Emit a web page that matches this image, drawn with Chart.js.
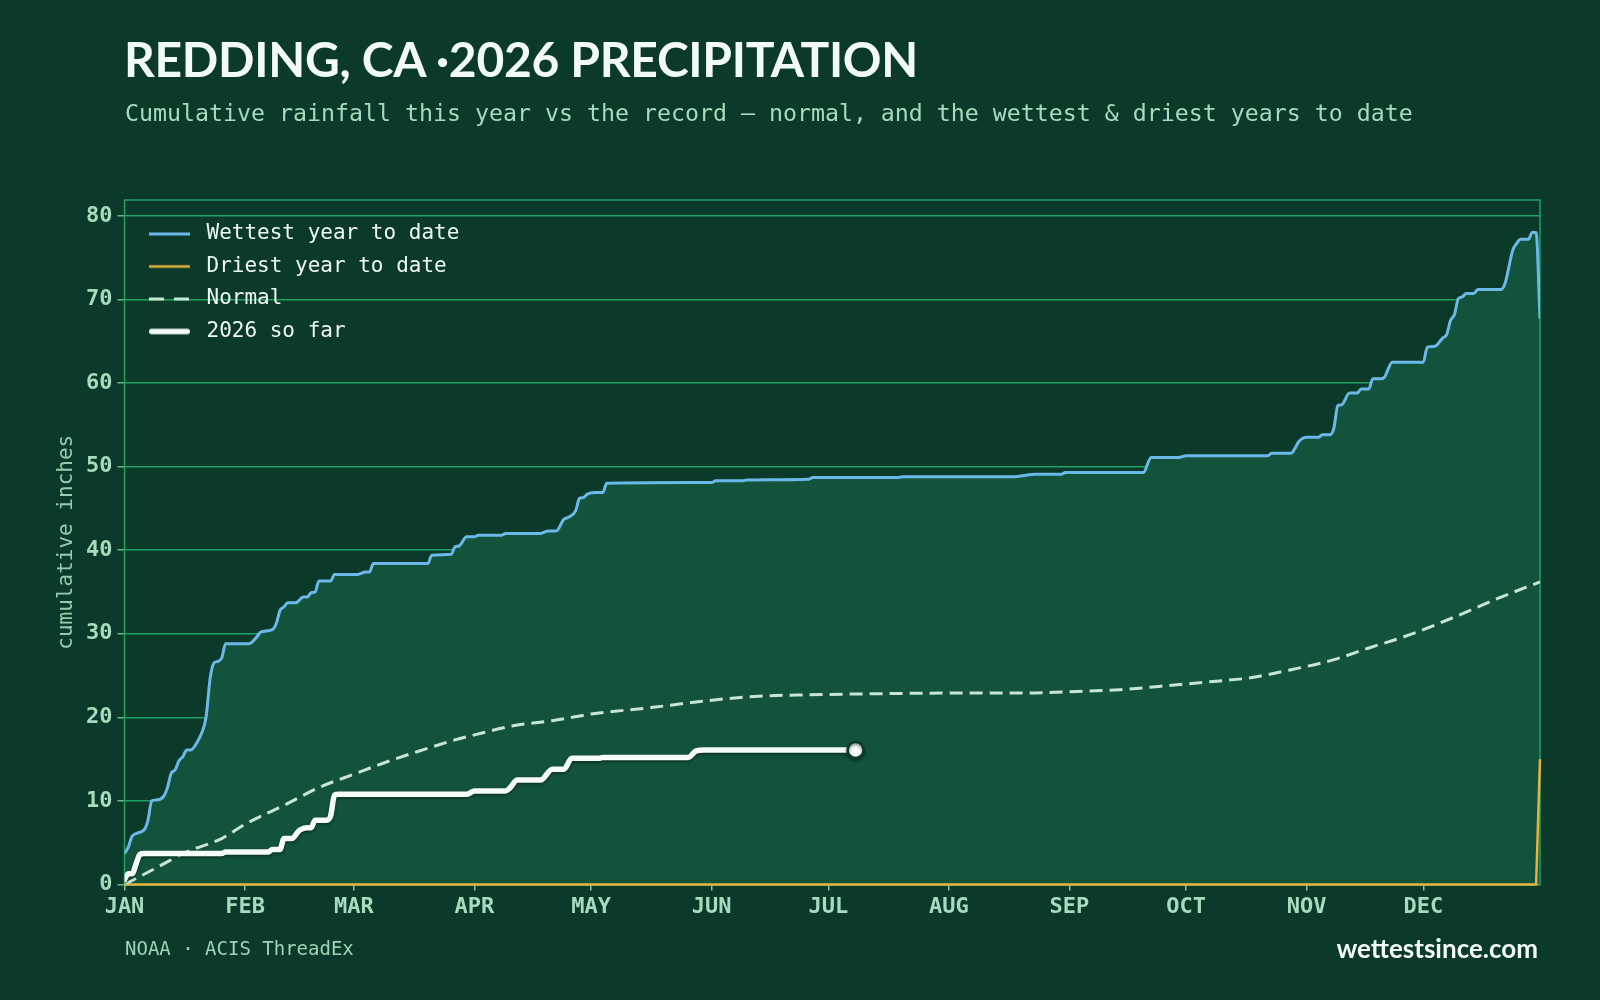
<!DOCTYPE html>
<html lang="en">
<head>
<meta charset="UTF-8">
<title>Redding, CA 2026 precipitation</title>
<script src="https://cdn.jsdelivr.net/npm/chart.js"></script>
<style>
  html, body { margin: 0; padding: 0; background: #0b3a2a; }
  body { width: 1600px; height: 1000px; position: relative; overflow: hidden; }
  .title {
    position: absolute; left: 124px; top: 29px;
    font-family: 'Lato', sans-serif; font-weight: 700; font-size: 48px;
    color: #f1faf4; line-height: 60px; letter-spacing: -0.3px; white-space: nowrap;
  }
  .subtitle {
    position: absolute; left: 125px; top: 98px;
    font-family: 'DejaVu Sans Mono', monospace; font-size: 23.25px;
    color: #a6dbbd; line-height: 30px; white-space: nowrap;
  }
  .source {
    position: absolute; left: 125px; top: 936px;
    font-family: 'DejaVu Sans Mono', monospace; font-size: 19px;
    color: #9fd3b6; line-height: 24px;
  }
  .brand {
    position: absolute; right: 62px; top: 932px;
    font-family: 'Lato', sans-serif; font-weight: 700; font-size: 26px;
    color: #f4fbf6; line-height: 32px;
  }
  .chart-box { position: absolute; left: 0; top: 0; width: 1600px; height: 1000px; }
</style>
</head>
<body>
  <div class="chart-box"><canvas id="rain"></canvas></div>
  <div class="title">REDDING, CA ·2026 PRECIPITATION</div>
  <div class="subtitle">Cumulative rainfall this year vs the record — normal, and the wettest &amp; driest years to date</div>
  <div class="source">NOAA · ACIS ThreadEx</div>
  <div class="brand">wettestsince.com</div>

<script>
// month ticks (day of year, 2026 is not a leap year)
const monthNames = ['JAN', 'FEB', 'MAR', 'APR', 'MAY', 'JUN', 'JUL', 'AUG', 'SEP', 'OCT', 'NOV', 'DEC'];
const monthStarts = [0, 31, 59, 90, 120, 151, 181, 212, 243, 273, 304, 334];
const yTicks = [0, 10, 20, 30, 40, 50, 60, 70, 80];

// wettest year to date (breakpoints)
const wetDays = [0, 1, 2, 5, 6, 7, 8, 10, 11, 12, 13, 14, 15, 16, 17, 19, 20, 21, 22, 23, 24, 25, 26, 32,
  34, 35, 38, 39, 40, 41, 42, 44, 46, 47, 48, 49, 50, 53, 54, 60, 62, 63, 64, 78, 79, 84, 85, 86, 88, 90,
  91, 97, 98, 107, 109, 111, 113, 114, 116, 117, 118, 119, 121, 123, 124, 151, 152, 159, 160, 176, 177,
  199, 200, 229, 231, 234, 241, 242, 262, 264, 271, 273, 294, 295, 300, 301, 302, 304, 307, 308, 310,
  311, 312, 313, 315, 317, 318, 320, 321, 323, 324, 326, 334, 335, 337, 339, 340, 341, 342, 343, 344,
  345, 347, 348, 354, 355, 357, 358, 359, 361, 362, 363, 364];
const wetInches = [3.7, 4.5, 5.8, 6.5, 7.6, 10.0, 10.1, 10.5, 11.5, 13.3, 13.7, 14.8, 15.3, 16.1, 16.1, 17.3,
  18.3, 20.1, 24.6, 26.5, 26.7, 27.1, 28.8, 28.8, 29.6, 30.2, 30.5, 31.2, 32.8, 33.2, 33.7, 33.7, 34.4,
  34.4, 34.9, 35.0, 36.3, 36.3, 37.1, 37.1, 37.4, 37.4, 38.4, 38.4, 39.4, 39.5, 40.4, 40.5, 41.6, 41.6,
  41.8, 41.8, 42.0, 42.0, 42.3, 42.3, 43.7, 43.9, 44.7, 46.2, 46.3, 46.7, 46.9, 46.9, 48.0, 48.1, 48.3,
  48.3, 48.4, 48.5, 48.7, 48.7, 48.8, 48.8, 48.9, 49.1, 49.1, 49.3, 49.3, 51.1, 51.1, 51.3, 51.3, 51.6,
  51.6, 52.2, 53.0, 53.5, 53.5, 53.8, 53.8, 54.6, 57.3, 57.4, 58.8, 58.8, 59.3, 59.3, 60.5, 60.5, 60.7,
  62.5, 62.5, 64.3, 64.4, 65.4, 65.8, 67.5, 68.2, 70.1, 70.3, 70.7, 70.7, 71.2, 71.2, 71.9, 75.9, 76.7,
  77.2, 77.2, 78.0, 78.0, 67.7];

// driest year to date
const dryDays = [0, 363, 364];
const dryInches = [0, 0, 15.0];

// normal
const normalDays = [0, 7, 16, 25, 31, 42, 50, 59, 67, 76, 85, 90, 100, 110, 120, 136, 148, 162, 176, 190,
  210, 231, 245, 256, 266, 280, 289, 300, 311, 320, 330, 342, 353, 364];
const normalInches = [0, 1.7, 3.9, 5.5, 7.2, 9.7, 11.6, 13.2, 14.6, 16.0, 17.3, 17.9, 19.0, 19.6, 20.4, 21.2,
  21.9, 22.5, 22.7, 22.8, 22.9, 22.9, 23.1, 23.3, 23.7, 24.3, 24.7, 25.7, 26.9, 28.3, 29.8, 32.0, 34.2, 36.2];

// 2026 so far
const thisDays = [0, 1, 2, 3, 4, 5, 25, 26, 37, 38, 40, 41, 43, 45, 47, 48, 49, 52, 53, 54, 55, 88, 90, 98,
  99, 101, 107, 110, 113, 115, 122, 123, 145, 147, 149, 188];
const thisInches = [0.6, 1.3, 1.3, 2.5, 3.6, 3.7, 3.7, 3.9, 3.9, 4.2, 4.2, 5.5, 5.5, 6.5, 6.8, 6.8, 7.7, 7.7,
  8.2, 10.7, 10.8, 10.8, 11.2, 11.2, 11.5, 12.5, 12.5, 13.8, 13.8, 15.1, 15.1, 15.2, 15.2, 16.0, 16.1, 16.1];

const pts = (xs, ys) => xs.map((x, i) => ({ x: x, y: ys[i] }));

const BG = '#0b3a2a';
const GRID = '#21a067';
const TICK = '#a6dbbd';
const mono = 'DejaVu Sans Mono';

// small canvas used as legend swatch: a 41px stroke in the dataset's style
function swatch(ds, dash) {
  const c = document.createElement('canvas');
  c.width = 47;
  c.height = 14;
  const g = c.getContext('2d');
  const w = ds.borderWidth;
  g.strokeStyle = ds.borderColor;
  g.lineWidth = w;
  g.lineCap = ds.borderCapStyle || 'butt';
  g.setLineDash(dash || []);
  const inset = g.lineCap === 'round' ? w / 2 : 0;
  g.beginPath();
  g.moveTo(inset, 7);
  g.lineTo(41 - inset, 7);
  g.stroke();
  return c;
}

// frame round the plot area
const framePlugin = {
  id: 'frame',
  beforeDatasetsDraw(chart) {
    const { ctx, chartArea: a } = chart;
    ctx.save();
    ctx.strokeStyle = GRID;
    ctx.lineWidth = 1.5;
    ctx.strokeRect(a.left, a.top, a.right - a.left, a.bottom - a.top);
    ctx.restore();
  }
};

// the chartArea legend lands at top 0; put it into the plot's top-left corner
const legendNudge = {
  id: 'legendNudge',
  afterLayout(chart) {
    const lg = chart.legend, a = chart.chartArea;
    if (lg) {
      lg.left = a.left + 13;
      lg.top = a.top + 12;
      lg.bottom = a.bottom;
    }
  }
};

// soft dark edge under the 2026 line
const lineShadow = {
  id: 'lineShadow',
  beforeDatasetDraw(chart, args) {
    if (args.index === 3) {
      const c = chart.ctx;
      c.save();
      c.shadowColor = 'rgba(0, 25, 12, 0.55)';
      c.shadowBlur = 3;
      c.shadowOffsetY = 1.5;
    }
  },
  afterDatasetDraw(chart, args) {
    if (args.index === 3) chart.ctx.restore();
  }
};

const lastThis = thisDays.length - 1;

new Chart(document.getElementById('rain'), {
  type: 'line',
  data: {
    datasets: [
      {
        label: 'Wettest year to date',
        data: pts(wetDays, wetInches),
        borderColor: '#6cb9e9',
        backgroundColor: '#13523b',
        borderWidth: 3,
        fill: 'origin',
        pointRadius: 0,
        cubicInterpolationMode: 'monotone',
        order: 3
      },
      {
        label: 'Driest year to date',
        data: pts(dryDays, dryInches),
        borderColor: '#e6b340',
        borderWidth: 2.5,
        fill: false,
        clip: 4,
        pointRadius: 0,
        order: 2
      },
      {
        label: 'Normal',
        data: pts(normalDays, normalInches),
        borderColor: '#c8e6d4',
        borderWidth: 3,
        borderDash: [13, 7],
        fill: false,
        pointRadius: 0,
        cubicInterpolationMode: 'monotone',
        order: 1
      },
      {
        label: '2026 so far',
        data: pts(thisDays, thisInches),
        borderColor: '#f5fbf7',
        borderWidth: 5.5,
        borderCapStyle: 'round',
        borderJoinStyle: 'round',
        fill: false,
        pointRadius: ctx => (ctx.dataIndex === lastThis ? 8 : 0),
        pointHoverRadius: 0,
        pointBackgroundColor: '#f5fbf7',
        pointBorderColor: BG,
        pointBorderWidth: 2.5,
        cubicInterpolationMode: 'monotone',
        order: 0
      }
    ]
  },
  options: {
    responsive: true,
    maintainAspectRatio: false,
    animation: false,
    layout: { padding: { left: 54, top: 200, right: 60, bottom: 75.5 } },
    plugins: {
      filler: { drawTime: 'beforeDatasetsDraw' },
      tooltip: { enabled: false },
      legend: {
        position: 'chartArea',
        align: 'start',
        labels: {
          usePointStyle: true,
          pointStyleWidth: 47,
          padding: 11.5,
          color: '#eef8f1',
          font: { family: mono, size: 21 },
          sort: (a, b) => a.datasetIndex - b.datasetIndex,
          generateLabels(chart) {
            const items = Chart.defaults.plugins.legend.labels.generateLabels(chart);
            items.forEach(it => {
              const ds = chart.data.datasets[it.datasetIndex];
              it.pointStyle = swatch(ds, it.text === 'Normal' ? [15, 10] : null);
            });
            return items;
          }
        }
      }
    },
    scales: {
      x: {
        type: 'linear',
        min: 0,
        max: 364,
        afterBuildTicks: axis => { axis.ticks = monthStarts.map(v => ({ value: v })); },
        afterFit: s => { s.height = 40; },
        ticks: {
          autoSkip: false,
          maxRotation: 0,
          padding: 4,
          color: TICK,
          font: { family: mono, size: 22, weight: 'bold' },
          callback: v => monthNames[monthStarts.indexOf(v)]
        },
        grid: { drawOnChartArea: false, drawTicks: true, tickLength: 6, tickColor: '#86c3a3', lineWidth: 1.5 },
        border: { display: false }
      },
      y: {
        min: 0,
        max: 81.9,
        afterBuildTicks: axis => { axis.ticks = yTicks.map(v => ({ value: v })); },
        afterFit: s => { s.width = 70.5; },
        ticks: {
          padding: 5,
          color: TICK,
          font: { family: mono, size: 22, weight: 'bold' }
        },
        grid: { color: GRID, lineWidth: 1.5, tickLength: 7, tickColor: '#6fb391' },
        border: { display: false },
        title: {
          display: true,
          text: 'cumulative inches',
          color: '#93cdae',
          padding: { top: 0, bottom: 0 },
          font: { family: mono, size: 21 }
        }
      }
    }
  },
  plugins: [framePlugin, legendNudge, lineShadow]
});
</script>
</body>
</html>
